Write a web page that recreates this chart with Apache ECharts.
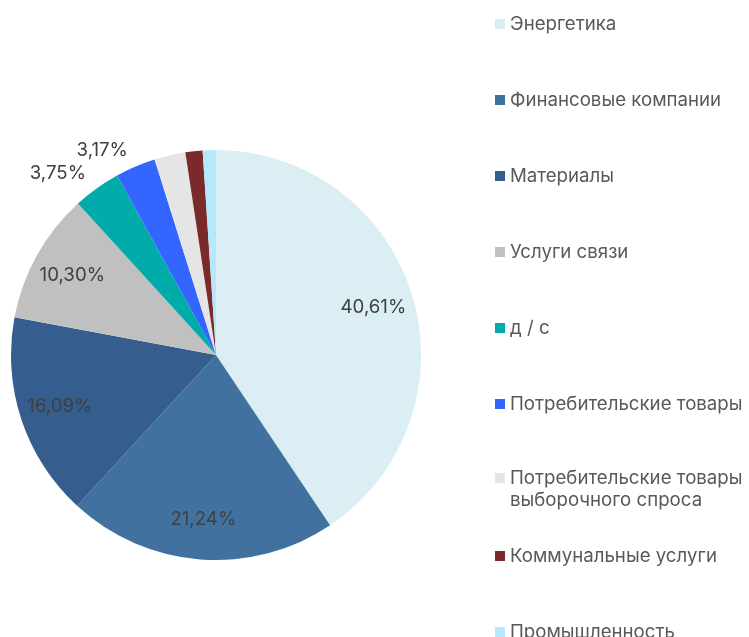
<!DOCTYPE html>
<html>
<head>
<meta charset="utf-8">
<script src="https://cdn.jsdelivr.net/npm/echarts@6/dist/echarts.min.js"></script>
<style>
html,body{margin:0;padding:0;background:#fff;}
#chart{width:749px;height:637px;}
</style>
</head>
<body>
<div id="chart"></div>
<script>
const categories = [
  'Энергетика',
  'Финансовые компании',
  'Материалы',
  'Услуги связи',
  'д / с',
  'Потребительские товары',
  'Потребительские товары\nвыборочного спроса',
  'Коммунальные услуги',
  'Промышленность'
];
const values = [40.61, 21.24, 16.09, 10.30, 3.75, 3.17, 2.45, 1.35, 1.04];
const colors = ['#daeef4', '#41729f', '#355d8e', '#c0c0c0', '#00aca9', '#3366ff', '#e5e5e5', '#7a2a2a', '#b5e8fb'];

const fmt = v => v.toFixed(2).replace('.', ',') + '%';
const pieData = categories.map((c, i) => ({ name: c, value: values[i], itemStyle: { color: colors[i] } }));
const labelData = categories.map((c, i) => ({ name: c, value: values[i] }));

const chart = echarts.init(document.getElementById('chart'), null, { renderer: 'canvas' });
const FONT = 'Inter';
const FS = 18.67;
const legendBase = {
  orient: 'vertical',
  left: 490,
  itemWidth: 10,
  itemHeight: 10,
  itemGap: 54,
  icon: 'rect',
  height: 200,
  textStyle: { fontFamily: FONT, fontSize: FS, color: '#595959', lineHeight: 22 }
};
chart.setOption({
  animation: false,
  legend: [
    Object.assign({}, legendBase, { top: 8, height: 460, data: categories.slice(0, 6) }),
    Object.assign({}, legendBase, { top: 440, data: categories.slice(6, 7), formatter: n => '\n' + n }),
    Object.assign({}, legendBase, { top: 540, data: categories.slice(7) })
  ],
  series: [
    {
      type: 'pie',
      center: [216, 355],
      radius: [0, 205],
      startAngle: 90,
      clockwise: true,
      data: pieData,
      emphasis: { disabled: true },
      label: {
        show: true,
        position: 'outside',
        fontFamily: FONT,
        fontSize: FS,
        color: '#404040',
        formatter: p => (p.value < 10 && p.value >= 3) ? fmt(p.value) : ''
      },
      labelLine: { show: false, length: 18, length2: 0 }
    },
    {
      type: 'pie',
      center: [216, 355],
      radius: [118, 205],
      startAngle: 90,
      clockwise: true,
      silent: true,
      legendHoverLink: false,
      data: labelData,
      itemStyle: { color: 'rgba(0,0,0,0)' },
      emphasis: { disabled: true },
      label: {
        show: true,
        position: 'inside',
        fontFamily: FONT,
        fontSize: FS,
        color: '#404040',
        formatter: p => p.value >= 10 ? fmt(p.value) : ''
      },
      labelLine: { show: false }
    }
  ]
});
</script>
</body>
</html>
